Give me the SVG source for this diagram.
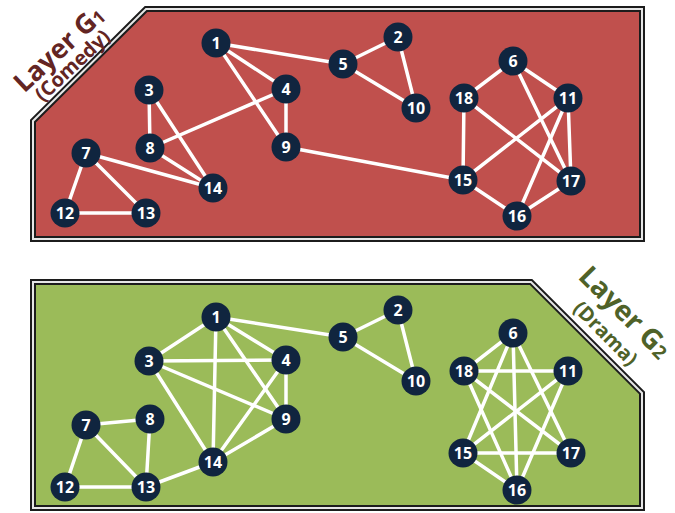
<svg xmlns="http://www.w3.org/2000/svg" width="675" height="513" viewBox="0 0 675 513">
<style>
.frame-dark{fill:none;stroke:#1c1c1c;stroke-width:6;stroke-linejoin:miter}
.frame-light{fill:none;stroke:#e6e6e6;stroke-width:2;stroke-linejoin:miter}
.edge{stroke:#ffffff;stroke-width:3.5;stroke-linecap:round}
.node circle{fill:#10253f}
.node text{fill:#ffffff;font-family:"Open Sans","Liberation Sans",sans-serif;font-weight:bold;font-size:16px;text-anchor:middle;dominant-baseline:central}
.title{font-family:"Open Sans","Liberation Sans",sans-serif;font-weight:bold;text-anchor:middle;dominant-baseline:central}
</style>
<rect width="675" height="513" fill="#ffffff"/>
<g id="panel-g1">
<polygon points="146,9 642,9 642,239 33,239 33,121" fill="#c0504d"/>
<polygon class="frame-dark" points="146,9 642,9 642,239 33,239 33,121"/>
<polygon class="frame-light" points="146,9 642,9 642,239 33,239 33,121"/>
</g>
<g id="panel-g2">
<polygon points="33,282 531,282 642,393 642,508 33,508" fill="#9bbb59"/>
<polygon class="frame-dark" points="33,282 531,282 642,393 642,508 33,508"/>
<polygon class="frame-light" points="33,282 531,282 642,393 642,508 33,508"/>
</g>
<g id="label-g1" fill="#632523">
<text class="title" transform="translate(58,48) rotate(-43)" font-size="27">Layer G<tspan font-size="18" dy="5">1</tspan></text>
<text class="title" transform="translate(72,65) rotate(-43)" font-size="20">(Comedy)</text>
</g>
<g id="label-g2" fill="#4f6228">
<text class="title" transform="translate(626,311) rotate(45)" font-size="28">Layer G<tspan font-size="19" dy="5">2</tspan></text>
<text class="title" transform="translate(606,333) rotate(45)" font-size="20">(Drama)</text>
</g>
<g id="connectors">
<line class="edge" x1="216" y1="43" x2="343" y2="64"/>
<line class="edge" x1="216" y1="43" x2="286" y2="89"/>
<line class="edge" x1="216" y1="43" x2="286" y2="147"/>
<line class="edge" x1="343" y1="64" x2="398" y2="37"/>
<line class="edge" x1="398" y1="37" x2="416" y2="108"/>
<line class="edge" x1="343" y1="64" x2="416" y2="108"/>
<line class="edge" x1="149" y1="90" x2="150" y2="148"/>
<line class="edge" x1="149" y1="90" x2="213" y2="188"/>
<line class="edge" x1="150" y1="148" x2="286" y2="89"/>
<line class="edge" x1="150" y1="148" x2="213" y2="188"/>
<line class="edge" x1="286" y1="89" x2="286" y2="147"/>
<line class="edge" x1="286" y1="147" x2="463" y2="180"/>
<line class="edge" x1="86" y1="153" x2="213" y2="188"/>
<line class="edge" x1="86" y1="153" x2="65" y2="213"/>
<line class="edge" x1="86" y1="153" x2="146" y2="213"/>
<line class="edge" x1="65" y1="213" x2="146" y2="213"/>
<line class="edge" x1="513" y1="61" x2="464" y2="98"/>
<line class="edge" x1="513" y1="61" x2="568" y2="98"/>
<line class="edge" x1="513" y1="61" x2="571" y2="181"/>
<line class="edge" x1="464" y1="98" x2="463" y2="180"/>
<line class="edge" x1="464" y1="98" x2="571" y2="181"/>
<line class="edge" x1="568" y1="98" x2="463" y2="180"/>
<line class="edge" x1="568" y1="98" x2="517" y2="216"/>
<line class="edge" x1="568" y1="98" x2="571" y2="181"/>
<line class="edge" x1="463" y1="180" x2="517" y2="216"/>
<line class="edge" x1="517" y1="216" x2="571" y2="181"/>

<line class="edge" x1="216" y1="317" x2="343" y2="337"/>
<line class="edge" x1="216" y1="317" x2="149" y2="361"/>
<line class="edge" x1="216" y1="317" x2="286" y2="360"/>
<line class="edge" x1="216" y1="317" x2="286" y2="419"/>
<line class="edge" x1="216" y1="317" x2="213" y2="462"/>
<line class="edge" x1="343" y1="337" x2="398" y2="310"/>
<line class="edge" x1="398" y1="310" x2="416" y2="381"/>
<line class="edge" x1="343" y1="337" x2="416" y2="381"/>
<line class="edge" x1="149" y1="361" x2="286" y2="360"/>
<line class="edge" x1="149" y1="361" x2="286" y2="419"/>
<line class="edge" x1="149" y1="361" x2="213" y2="462"/>
<line class="edge" x1="286" y1="360" x2="286" y2="419"/>
<line class="edge" x1="286" y1="360" x2="213" y2="462"/>
<line class="edge" x1="286" y1="419" x2="213" y2="462"/>
<line class="edge" x1="213" y1="462" x2="146" y2="487"/>
<line class="edge" x1="86" y1="425" x2="150" y2="419"/>
<line class="edge" x1="86" y1="425" x2="65" y2="487"/>
<line class="edge" x1="86" y1="425" x2="146" y2="487"/>
<line class="edge" x1="150" y1="419" x2="146" y2="487"/>
<line class="edge" x1="65" y1="487" x2="146" y2="487"/>
<line class="edge" x1="513" y1="333" x2="464" y2="371"/>
<line class="edge" x1="513" y1="333" x2="463" y2="453"/>
<line class="edge" x1="513" y1="333" x2="517" y2="490"/>
<line class="edge" x1="513" y1="333" x2="571" y2="453"/>
<line class="edge" x1="464" y1="371" x2="568" y2="371"/>
<line class="edge" x1="464" y1="371" x2="571" y2="453"/>
<line class="edge" x1="464" y1="371" x2="517" y2="490"/>
<line class="edge" x1="568" y1="371" x2="463" y2="453"/>
<line class="edge" x1="568" y1="371" x2="517" y2="490"/>
<line class="edge" x1="463" y1="453" x2="571" y2="453"/>
<line class="edge" x1="463" y1="453" x2="517" y2="490"/>
</g>
<g id="g1-n1" class="node"><circle cx="216" cy="43" r="14.5"/><text x="216" y="43">1</text></g>
<g id="g1-n2" class="node"><circle cx="398" cy="37" r="14.5"/><text x="398" y="37">2</text></g>
<g id="g1-n3" class="node"><circle cx="149" cy="90" r="14.5"/><text x="149" y="90">3</text></g>
<g id="g1-n4" class="node"><circle cx="286" cy="89" r="14.5"/><text x="286" y="89">4</text></g>
<g id="g1-n5" class="node"><circle cx="343" cy="64" r="14.5"/><text x="343" y="64">5</text></g>
<g id="g1-n6" class="node"><circle cx="513" cy="61" r="14.5"/><text x="513" y="61">6</text></g>
<g id="g1-n7" class="node"><circle cx="86" cy="153" r="14.5"/><text x="86" y="153">7</text></g>
<g id="g1-n8" class="node"><circle cx="150" cy="148" r="14.5"/><text x="150" y="148">8</text></g>
<g id="g1-n9" class="node"><circle cx="286" cy="147" r="14.5"/><text x="286" y="147">9</text></g>
<g id="g1-n10" class="node"><circle cx="416" cy="108" r="14.5"/><text x="416" y="108">10</text></g>
<g id="g1-n11" class="node"><circle cx="568" cy="98" r="14.5"/><text x="568" y="98">11</text></g>
<g id="g1-n12" class="node"><circle cx="65" cy="213" r="14.5"/><text x="65" y="213">12</text></g>
<g id="g1-n13" class="node"><circle cx="146" cy="213" r="14.5"/><text x="146" y="213">13</text></g>
<g id="g1-n14" class="node"><circle cx="213" cy="188" r="14.5"/><text x="213" y="188">14</text></g>
<g id="g1-n15" class="node"><circle cx="463" cy="180" r="14.5"/><text x="463" y="180">15</text></g>
<g id="g1-n16" class="node"><circle cx="517" cy="216" r="14.5"/><text x="517" y="216">16</text></g>
<g id="g1-n17" class="node"><circle cx="571" cy="181" r="14.5"/><text x="571" y="181">17</text></g>
<g id="g1-n18" class="node"><circle cx="464" cy="98" r="14.5"/><text x="464" y="98">18</text></g>

<g id="g2-n1" class="node"><circle cx="216" cy="317" r="14.5"/><text x="216" y="317">1</text></g>
<g id="g2-n2" class="node"><circle cx="398" cy="310" r="14.5"/><text x="398" y="310">2</text></g>
<g id="g2-n3" class="node"><circle cx="149" cy="361" r="14.5"/><text x="149" y="361">3</text></g>
<g id="g2-n4" class="node"><circle cx="286" cy="360" r="14.5"/><text x="286" y="360">4</text></g>
<g id="g2-n5" class="node"><circle cx="343" cy="337" r="14.5"/><text x="343" y="337">5</text></g>
<g id="g2-n6" class="node"><circle cx="513" cy="333" r="14.5"/><text x="513" y="333">6</text></g>
<g id="g2-n7" class="node"><circle cx="86" cy="425" r="14.5"/><text x="86" y="425">7</text></g>
<g id="g2-n8" class="node"><circle cx="150" cy="419" r="14.5"/><text x="150" y="419">8</text></g>
<g id="g2-n9" class="node"><circle cx="286" cy="419" r="14.5"/><text x="286" y="419">9</text></g>
<g id="g2-n10" class="node"><circle cx="416" cy="381" r="14.5"/><text x="416" y="381">10</text></g>
<g id="g2-n11" class="node"><circle cx="568" cy="371" r="14.5"/><text x="568" y="371">11</text></g>
<g id="g2-n12" class="node"><circle cx="65" cy="487" r="14.5"/><text x="65" y="487">12</text></g>
<g id="g2-n13" class="node"><circle cx="146" cy="487" r="14.5"/><text x="146" y="487">13</text></g>
<g id="g2-n14" class="node"><circle cx="213" cy="462" r="14.5"/><text x="213" y="462">14</text></g>
<g id="g2-n15" class="node"><circle cx="463" cy="453" r="14.5"/><text x="463" y="453">15</text></g>
<g id="g2-n16" class="node"><circle cx="517" cy="490" r="14.5"/><text x="517" y="490">16</text></g>
<g id="g2-n17" class="node"><circle cx="571" cy="453" r="14.5"/><text x="571" y="453">17</text></g>
<g id="g2-n18" class="node"><circle cx="464" cy="371" r="14.5"/><text x="464" y="371">18</text></g>
</svg>
